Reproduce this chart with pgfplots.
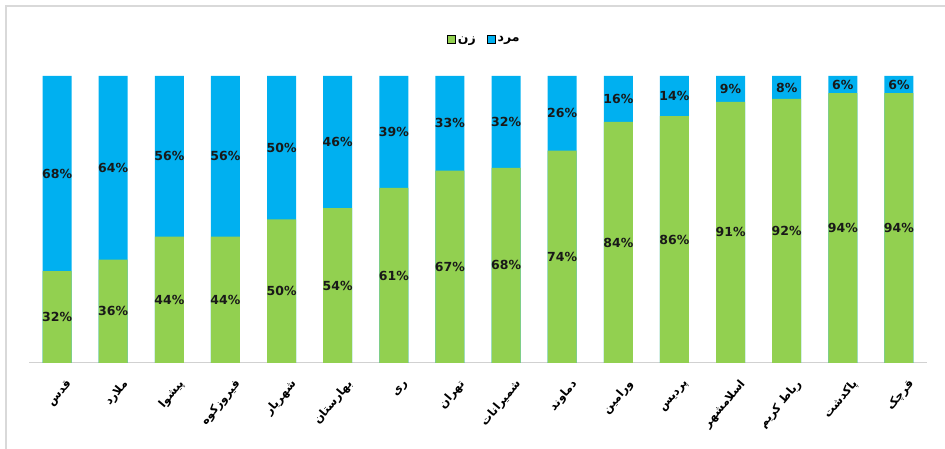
\documentclass[border=0pt]{standalone}
\usepackage{pgfplots}
\pgfplotsset{compat=1.18}
\usepackage{pgfplotstable}
\usepackage{fontspec}
\setmainfont{DejaVu Sans}
\newfontfamily\arabicfont[Script=Arabic]{DejaVu Sans}
\TeXXeTstate=1
\definecolor{cgreen}{HTML}{92D050}
\definecolor{cblue}{HTML}{00B0F0}
\pgfplotstableread{
x g b
0 32 68
1 36 64
2 44 56
3 44 56
4 50 50
5 54 46
6 61 39
7 67 33
8 68 32
9 74 26
10 84 16
11 86 14
12 91 9
13 92 8
14 94 6
15 94 6
}\data
\begin{document}
\begin{tikzpicture}[x=1pt,y=1pt]
\useasboundingbox (0,0) rectangle (945,449);
\draw[black!15, line width=1.5pt] (6,-10) -- (6,443) -- (960,443);
\begin{axis}[
  at={(29pt,86pt)}, anchor=south west,
  scale only axis, width=898pt, height=287pt,
  xmin=-0.5, xmax=15.5, ymin=0, ymax=100,
  /pgf/number format/assume math mode=true,
  axis y line=none, axis x line*=bottom,
  x axis line style={draw=black!18, line width=1pt, -},
  xtick={0,...,15}, major tick length=0pt,
  xticklabels={قدس,ملارد,پیشوا,فیروزکوه,شهریار,بهارستان,ری,تهران,شمیرانات,دماوند,ورامین,پردیس,اسلامشهر,{\beginR رباط کریم\endR},پاکدشت,قرچک},
  xticklabel style={rotate=50, anchor=east, font=\arabicfont\bfseries\fontsize{11.5}{13}\selectfont, xshift=-3pt, yshift=-22pt},
  legend style={at={(0.507,1.125)}, anchor=center, draw=none, legend columns=2, font=\arabicfont\bfseries\fontsize{12.5}{14}\selectfont, /tikz/every even column/.append style={column sep=9pt}},
  legend image code/.code={\fill[#1] (0pt,-3.5pt) rectangle (8.5pt,4.5pt);},
  clip=false,
]
\addplot[forget plot, ybar, bar width=29pt, bar shift=0pt, fill=cblue, draw=none] table[x=x, y expr=\thisrow{g}+\thisrow{b}] {\data};
\addplot[forget plot, ybar, bar width=29pt, bar shift=0pt, fill=cgreen, draw=none] table[x=x, y=g] {\data};
\addlegendimage{fill=cgreen}
\addlegendentry{\beginR زن\endR}
\addlegendimage{fill=cblue}
\addlegendentry{\beginR مرد\endR}
\addplot[forget plot, only marks, mark=*, mark size=0.01pt, mark options={draw=none, fill=none},
  point meta=explicit, nodes near coords={\pgfmathprintnumber{\pgfplotspointmeta}\%},
  every node near coord/.style={anchor=center, font=\bfseries\fontsize{12.5}{14}\selectfont, text=black!90, inner sep=0pt}]
  table[x=x, y expr=\thisrow{g}/2, meta=g] {\data};
\addplot[forget plot, only marks, mark=*, mark size=0.01pt, mark options={draw=none, fill=none},
  point meta=explicit, nodes near coords={\pgfmathprintnumber{\pgfplotspointmeta}\%},
  every node near coord/.style={anchor=center, font=\bfseries\fontsize{12.5}{14}\selectfont, text=black!90, inner sep=0pt}]
  table[x=x, y expr=\thisrow{g}+\thisrow{b}/2, meta=b] {\data};
\end{axis}
\end{tikzpicture}
\end{document}
